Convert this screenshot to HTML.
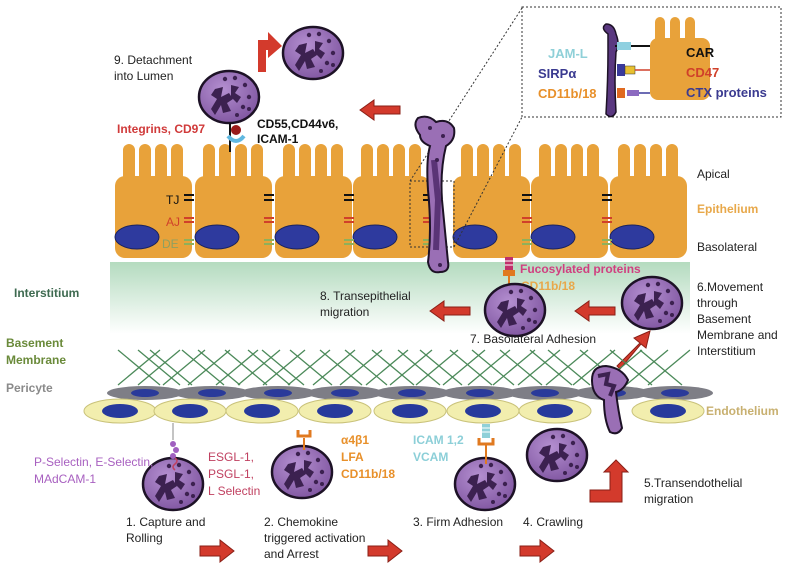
<!DOCTYPE html>
<html><head><meta charset="utf-8"><style>
html,body{margin:0;padding:0;background:#fff}
svg{display:block}
text{font-family:"Liberation Sans",sans-serif}
</style></head><body>
<svg width="800" height="577" viewBox="0 0 800 577" xmlns="http://www.w3.org/2000/svg">
<defs>
<linearGradient id="gi" x1="0" y1="0" x2="0" y2="1">
<stop offset="0" stop-color="#b4dbbf"/><stop offset="1" stop-color="#ffffff"/></linearGradient>
<radialGradient id="lk" cx="0.4" cy="0.35" r="0.7">
<stop offset="0" stop-color="#b48fd0"/><stop offset="1" stop-color="#7f55a0"/></radialGradient>
<g id="leuk">
<ellipse cx="0" cy="0" rx="30" ry="26" fill="url(#lk)" stroke="#1d1226" stroke-width="2.5"/>
<path d="M-14,-8 L-6,-10 L-8,0 L0,-4 L4,2 L-2,6 L2,14 L-6,16 L-8,8 L-14,18 L-18,12 L-12,2 L-18,-2 Z" fill="#3c2150"/>
<path d="M2,-12 L10,-10 L6,-4 L12,0 L8,6 L2,0 Z" fill="#3c2150"/>
<circle cx="-4" cy="-18" r="2.2" fill="#3c2150"/><circle cx="6" cy="-19" r="2.2" fill="#3c2150"/>
<circle cx="16" cy="-12" r="2.2" fill="#3c2150"/><circle cx="20" cy="0" r="2.2" fill="#3c2150"/>
<circle cx="14" cy="10" r="2.2" fill="#3c2150"/><circle cx="20" cy="12" r="2" fill="#3c2150"/>
<circle cx="8" cy="18" r="2" fill="#3c2150"/>
</g>
<g id="ecell">
<path d="M8,34 L8,6 a6,6 0 0 1 12,0 L20,34 L24,34 L24,6 a6,6 0 0 1 12,0 L36,34 L40,34 L40,6 a6,6 0 0 1 12,0 L52,34 L56,34 L56,6 a6,6 0 0 1 12,0 L68,34 Z" fill="#e8a23a"/>
<rect x="0" y="32" width="77" height="82" rx="10" fill="#e8a23a"/>
<ellipse cx="22" cy="93" rx="22" ry="12" fill="#2e3a9e" stroke="#1b235e" stroke-width="1"/>
</g>
<g id="endo"><ellipse cx="0" cy="0" rx="36" ry="12" fill="#f2eeae" stroke="#c9c27a" stroke-width="1"/><ellipse cx="0" cy="0" rx="18" ry="7" fill="#273a9c"/></g>
<g id="peri"><ellipse cx="0" cy="0" rx="38" ry="7" fill="#7e7e86"/><ellipse cx="0" cy="0" rx="14" ry="4" fill="#2a3a9a"/></g>
<g id="arrL"><path d="M0,0 L14,-10 L14,-4 L40,-4 L40,4 L14,4 L14,10 Z" fill="#d33a2c" stroke="#8a1f16" stroke-width="1"/></g>
<g id="arrR"><path d="M0,-5 L20,-5 L20,-11 L34,0 L20,11 L20,5 L0,5 Z" fill="#d33a2c" stroke="#8a1f16" stroke-width="1"/></g>
</defs>

<rect x="110" y="262" width="580" height="72" fill="url(#gi)"/>

<use href="#ecell" x="115" y="144"/>
<use href="#ecell" x="195" y="144"/>
<use href="#ecell" x="275" y="144"/>
<use href="#ecell" x="353" y="144"/>
<use href="#ecell" x="453" y="144"/>
<use href="#ecell" x="531" y="144"/>
<use href="#ecell" x="610" y="144"/>

<g stroke-width="2">
<g stroke="#111"><path d="M184,195h10M184,200h10M264,195h10M264,200h10M344,195h10M344,200h10M423,195h10M423,200h10M522,195h10M522,200h10M602,195h10M602,200h10"/></g>
<g stroke="#d0402a"><path d="M184,218h10M184,222h10M264,218h10M264,222h10M344,218h10M344,222h10M423,218h10M423,222h10M522,218h10M522,222h10M602,218h10M602,222h10"/></g>
<g stroke="#8fb05a"><path d="M184,240h10M184,244h10M264,240h10M264,244h10M344,240h10M344,244h10M423,240h10M423,244h10M522,240h10M522,244h10M602,240h10M602,244h10"/></g>
</g>
<text x="166" y="204" font-size="12" fill="#111">TJ</text>
<text x="166" y="226" font-size="12" fill="#d0402a">AJ</text>
<text x="162" y="248" font-size="12" fill="#8fa060">DE</text>

<rect x="410" y="181" width="44" height="66" fill="none" stroke="#333" stroke-width="1" stroke-dasharray="2,2"/>
<path d="M410,181 L522,8 M454,247 L522,117" stroke="#333" stroke-width="1" stroke-dasharray="2,2"/>
<rect x="522" y="7" width="259" height="110" fill="#fff" stroke="#333" stroke-width="1" stroke-dasharray="2,2"/>

<path d="M420,135 Q412,125 418,118 Q428,114 436,122 Q448,118 454,128 Q456,140 446,146 Q440,170 442,200 Q446,240 448,262 Q450,272 440,272 Q430,274 428,262 Q432,230 428,190 Q426,160 430,146 Q420,142 420,135 Z" fill="#9a6fb5" stroke="#1d1226" stroke-width="2"/>
<path d="M434,160 L438,200 L436,250" stroke="#5a3476" stroke-width="6" fill="none"/>
<circle cx="430" cy="128" r="2" fill="#3c2150"/><circle cx="443" cy="136" r="2" fill="#3c2150"/><circle cx="437" cy="160" r="2" fill="#3c2150"/><circle cx="440" cy="265" r="2" fill="#3c2150"/>

<g>
<path d="M655,40 L655,22 a5,5 0 0 1 10,0 L665,40 L670,40 L670,22 a5,5 0 0 1 10,0 L680,40 L685,40 L685,22 a5,5 0 0 1 10,0 L695,40 Z" fill="#e8a23a"/>
<rect x="650" y="38" width="60" height="62" rx="8" fill="#e8a23a"/>
<path d="M608,34 Q600,28 606,24 Q614,24 616,34 Q620,44 616,52 Q614,80 616,112 Q612,120 606,114 Q608,80 608,50 Z" fill="#5a3880" stroke="#1d1226" stroke-width="1.5"/>
<path d="M615,46 H650" stroke="#111" stroke-width="2"/>
<rect x="617" y="42" width="14" height="8" fill="#8fd0e0"/>
<rect x="617" y="64" width="8" height="12" fill="#3a3a9a"/><rect x="625" y="66" width="10" height="8" fill="#e8c030" stroke="#333" stroke-width="0.5"/><path d="M635,70H650" stroke="#d0402a" stroke-width="1.5"/>
<rect x="617" y="88" width="8" height="10" fill="#e06a20"/><rect x="627" y="90" width="12" height="6" fill="#8c6ac0"/><path d="M639,93H650" stroke="#3a3a9a" stroke-width="1.5"/>
<text x="548" y="58" font-size="13" font-weight="bold" fill="#8fd0d8">JAM-L</text>
<text x="538" y="78" font-size="13" font-weight="bold" fill="#3a3a90">SIRPα</text>
<text x="538" y="98" font-size="13" font-weight="bold" fill="#e8902a">CD11b/18</text>
<text x="686" y="57" font-size="13" font-weight="bold" fill="#111">CAR</text>
<text x="686" y="77" font-size="13" font-weight="bold" fill="#d0402a">CD47</text>
<text x="686" y="97" font-size="13" font-weight="bold" fill="#3a3a90">CTX proteins</text>
</g>

<use href="#leuk" x="313" y="53"/>
<use href="#leuk" x="229" y="97"/>
<path d="M258,72 L258,40 L268,40 L268,32 L282,46 L268,58 L268,50 L266,50 L266,72 Z" fill="#d33a2c"/>
<path d="M230,123 L230,152" stroke="#111" stroke-width="2"/>
<circle cx="236" cy="130" r="5" fill="#9a1a1a"/>
<path d="M228,136 Q236,146 244,136" stroke="#60b8e0" stroke-width="4" fill="none"/>
<text x="114" y="64" font-size="12" fill="#222">9. Detachment</text>
<text x="114" y="80" font-size="12" fill="#222">into Lumen</text>
<text x="117" y="133" font-size="12" font-weight="bold" fill="#d03a3a">Integrins, CD97</text>
<text x="257" y="128" font-size="12" font-weight="bold" fill="#111">CD55,CD44v6,</text>
<text x="257" y="143" font-size="12" font-weight="bold" fill="#111">ICAM-1</text>
<use href="#arrL" x="360" y="110"/>

<text x="697" y="178" font-size="12" fill="#222">Apical</text>
<text x="697" y="213" font-size="12" font-weight="bold" fill="#e8a84a">Epithelium</text>
<text x="697" y="251" font-size="12" fill="#222">Basolateral</text>

<text x="14" y="297" font-size="12" font-weight="bold" fill="#3e6a50">Interstitium</text>
<text x="6" y="347" font-size="12" font-weight="bold" fill="#6a8a3a">Basement</text>
<text x="6" y="364" font-size="12" font-weight="bold" fill="#6a8a3a">Membrane</text>
<text x="6" y="392" font-size="12" font-weight="bold" fill="#8a8a8a">Pericyte</text>
<text x="706" y="415" font-size="12" font-weight="bold" fill="#c8b070">Endothelium</text>

<rect x="505" y="257" width="8" height="14" fill="#c0306a"/><path d="M505,261h8M505,265h8" stroke="#fff" stroke-width="1"/>
<rect x="503" y="270" width="12" height="6" fill="#e07a20"/><path d="M509,276V284" stroke="#e07a20" stroke-width="2"/>
<text x="520" y="273" font-size="12" font-weight="bold" fill="#d04080">Fucosylated proteins</text>
<text x="521" y="290" font-size="12" font-weight="bold" fill="#e8a84a">CD11b/18</text>
<use href="#leuk" x="515" y="310"/>
<use href="#leuk" x="652" y="303"/>
<use href="#arrL" x="575" y="311"/>
<use href="#arrL" x="430" y="311"/>
<text x="320" y="300" font-size="12" fill="#222">8. Transepithelial</text>
<text x="320" y="316" font-size="12" fill="#222">migration</text>
<text x="470" y="343" font-size="12" fill="#222">7. Basolateral Adhesion</text>
<path d="M617,366 L640,343 L634,338 L650,331 L646,348 L641,344 L620,369 Z" fill="#d33a2c" stroke="#8a1f16" stroke-width="1"/>
<text x="697" y="291" font-size="12" fill="#222">6.Movement</text>
<text x="697" y="307" font-size="12" fill="#222">through</text>
<text x="697" y="323" font-size="12" fill="#222">Basement</text>
<text x="697" y="339" font-size="12" fill="#222">Membrane and</text>
<text x="697" y="355" font-size="12" fill="#222">Interstitium</text>

<g stroke="#4c8a5a" stroke-width="1.3" fill="none">
<path d="M118,350 L160,385 M138,350 L180,385 M150,350 L192,385 M182,350 L224,385 M198,350 L240,385 M225,350 L267,385 M248,350 L290,385 M262,350 L304,385 M290,350 L332,385 M320,350 L362,385 M345,350 L387,385 M372,350 L414,385 M398,350 L440,385 M420,350 L462,385 M450,350 L492,385 M472,350 L514,385 M500,350 L542,385 M530,350 L572,385 M548,350 L590,385 M580,350 L622,385 M610,350 L652,385 M640,350 L682,385"/>
<path d="M160,350 L118,385 M180,350 L138,385 M205,350 L163,385 M230,350 L188,385 M258,350 L216,385 M280,350 L238,385 M305,350 L263,385 M330,350 L288,385 M355,350 L313,385 M382,350 L340,385 M408,350 L366,385 M432,350 L390,385 M458,350 L416,385 M485,350 L443,385 M510,350 L468,385 M535,350 L493,385 M560,350 L518,385 M588,350 L546,385 M615,350 L573,385 M642,350 L600,385 M668,350 L626,385 M690,350 L648,385"/>
</g>

<use href="#peri" x="145" y="393"/><use href="#peri" x="212" y="393"/><use href="#peri" x="278" y="393"/><use href="#peri" x="345" y="393"/><use href="#peri" x="412" y="393"/><use href="#peri" x="480" y="393"/><use href="#peri" x="545" y="393"/><use href="#peri" x="612" y="393"/><use href="#peri" x="675" y="393"/>
<use href="#endo" x="120" y="411"/><use href="#endo" x="190" y="411"/><use href="#endo" x="262" y="411"/><use href="#endo" x="335" y="411"/><use href="#endo" x="410" y="411"/><use href="#endo" x="483" y="411"/><use href="#endo" x="555" y="411"/><use href="#endo" x="668" y="411"/>

<path d="M592,380 Q592,366 606,366 Q622,368 628,380 Q624,390 616,392 Q618,410 622,428 Q618,436 610,432 Q604,420 604,400 Q592,396 592,380 Z" fill="#9a6fb5" stroke="#1d1226" stroke-width="2"/>
<path d="M598,376 L608,374 L606,384 L614,386 L610,396" stroke="#3c2150" stroke-width="4" fill="none"/>

<use href="#leuk" x="173" y="484"/>
<use href="#leuk" x="302" y="472"/>
<use href="#leuk" x="485" y="484"/>
<use href="#leuk" x="557" y="455"/>
<path d="M173,423 V440" stroke="#888" stroke-width="1"/>
<circle cx="173" cy="444" r="3" fill="#a060c0"/><circle cx="176" cy="450" r="3" fill="#a060c0"/><circle cx="173" cy="456" r="3" fill="#a060c0"/>
<path d="M175,458 q4,3 0,6 q-4,3 0,6" stroke="#c04060" stroke-width="1.5" fill="none"/>
<path d="M304,438 V450" stroke="#e07a20" stroke-width="2"/><path d="M298,430 v6 h12 v-6" stroke="#e07a20" stroke-width="3" fill="none"/>
<rect x="482" y="424" width="8" height="14" fill="#8fd0d8"/><path d="M482,428h8M482,432h8" stroke="#fff"/>
<path d="M479,438 v6 h14 v-6" stroke="#e07a20" stroke-width="3" fill="none"/><path d="M486,444 V464" stroke="#e07a20" stroke-width="2"/>

<text x="34" y="466" font-size="12" fill="#a860c0">P-Selectin, E-Selectin,</text>
<text x="34" y="483" font-size="12" fill="#a860c0">MAdCAM-1</text>
<text x="208" y="461" font-size="12" fill="#c04060">ESGL-1,</text>
<text x="208" y="478" font-size="12" fill="#c04060">PSGL-1,</text>
<text x="208" y="495" font-size="12" fill="#c04060">L Selectin</text>
<text x="341" y="444" font-size="12" font-weight="bold" fill="#e8902a">α4β1</text>
<text x="341" y="461" font-size="12" font-weight="bold" fill="#e8902a">LFA</text>
<text x="341" y="478" font-size="12" font-weight="bold" fill="#e8902a">CD11b/18</text>
<text x="413" y="444" font-size="12" font-weight="bold" fill="#8ccfd8">ICAM 1,2</text>
<text x="413" y="461" font-size="12" font-weight="bold" fill="#8ccfd8">VCAM</text>

<path d="M590,490 L610,490 L610,472 L604,472 L616,460 L628,472 L622,472 L622,502 L590,502 Z" fill="#d33a2c" stroke="#8a1f16" stroke-width="1"/>
<text x="644" y="487" font-size="12" fill="#222">5.Transendothelial</text>
<text x="644" y="503" font-size="12" fill="#222">migration</text>

<text x="126" y="526" font-size="12" fill="#222">1. Capture and</text>
<text x="126" y="542" font-size="12" fill="#222">Rolling</text>
<text x="264" y="526" font-size="12" fill="#222">2. Chemokine</text>
<text x="264" y="542" font-size="12" fill="#222">triggered activation</text>
<text x="264" y="558" font-size="12" fill="#222">and Arrest</text>
<text x="413" y="526" font-size="12" fill="#222">3. Firm Adhesion</text>
<text x="523" y="526" font-size="12" fill="#222">4. Crawling</text>
<use href="#arrR" x="200" y="551"/>
<use href="#arrR" x="368" y="551"/>
<use href="#arrR" x="520" y="551"/>
</svg>
</body></html>
